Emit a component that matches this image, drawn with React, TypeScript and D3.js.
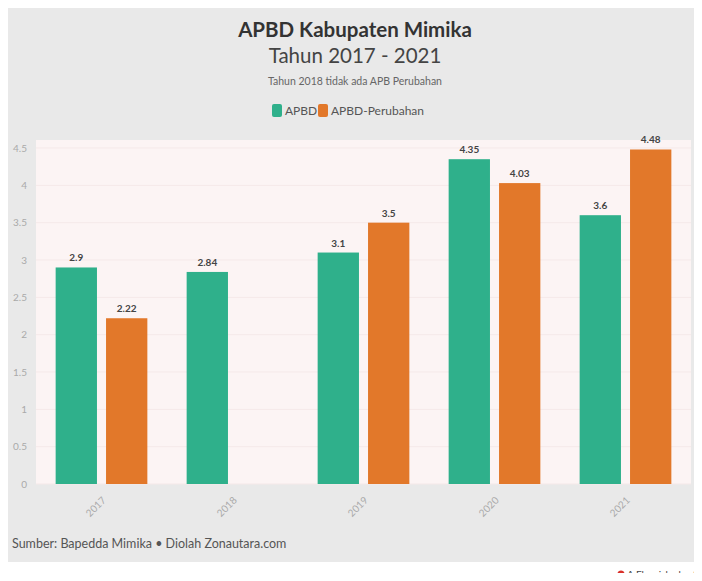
import React from 'react';
import * as d3 from 'd3';

const years = ['2017', '2018', '2019', '2020', '2021'];
const apbd = [2.9, 2.84, 3.1, 4.35, 3.6];
const apbdPerubahan: (number | null)[] = [2.22, null, 3.5, 4.03, 4.48];
const yTicks = [0, 0.5, 1, 1.5, 2, 2.5, 3, 3.5, 4, 4.5];
const seriesNames = ['APBD', 'APBD-Perubahan'];
const colors = ['#2fb08b', '#e2782a'];

const W = 702;
const H = 581;
const FONT = "'Lato', 'Open Sans', sans-serif";

export default function App() {
  const plot = { left: 36, right: 691, top: 140, bottom: 484 };

  const x0 = d3.scaleBand<string>()
    .domain(years)
    .range([plot.left, plot.right])
    .paddingInner(0.3)
    .paddingOuter(0.15);

  const x1 = d3.scaleBand<number>()
    .domain([0, 1])
    .range([0, x0.bandwidth()])
    .paddingInner(0.18);

  const y = d3.scaleLinear().domain([0, 4.5]).range([plot.bottom, 148]);

  const series = [apbd, apbdPerubahan];

  return (
    <div style={{ margin: -8 }}>
      <svg width={W} height={H} style={{ display: 'block', fontFamily: FONT }}>
        <rect x={0} y={0} width={W} height={H} fill="#ffffff" />
        <rect x={2} y={5} width={694} height={557} fill="#e9e9e9" />

        <text x={355} y={37} textAnchor="middle" fontSize={20.5} fontWeight={700} fill="#333">
          APBD Kabupaten Mimika
        </text>
        <text x={355} y={63} textAnchor="middle" fontSize={20.5} fill="#444">
          Tahun 2017 - 2021
        </text>
        <text x={355} y={85} textAnchor="middle" fontSize={10.5} fill="#666">
          Tahun 2018 tidak ada APB Perubahan
        </text>

        {/* legend */}
        <g fontSize={12} fill="#555">
          <rect x={272} y={104} width={10} height={13} rx={2} fill={colors[0]} />
          <text x={285} y={115}>{seriesNames[0]}</text>
          <rect x={318} y={104} width={10} height={13} rx={2} fill={colors[1]} />
          <text x={331} y={115}>{seriesNames[1]}</text>
        </g>

        {/* plot background */}
        <rect x={plot.left} y={plot.top} width={plot.right - plot.left} height={plot.bottom - plot.top} fill="#fcf4f4" />

        {yTicks.map((t) => (
          <g key={t}>
            <line x1={plot.left} x2={plot.right} y1={y(t)} y2={y(t)} stroke="#f5e9e9" strokeWidth={1} />
            <text x={27} y={y(t) + 3.5} textAnchor="end" fontSize={10} fill="#aaa">
              {d3.format('~g')(t)}
            </text>
          </g>
        ))}

        {years.map((yr, i) => (
          <g key={yr} transform={`translate(${x0(yr)},0)`}>
            {series.map((s, j) => {
              const v = s[i];
              if (v == null) return null;
              const bx = x1(j)!;
              return (
                <g key={j}>
                  <rect x={bx} y={y(v)} width={x1.bandwidth()} height={y(0) - y(v)} fill={colors[j]} />
                  <text x={bx + x1.bandwidth() / 2} y={y(v) - 6} textAnchor="middle" fontSize={10} fontWeight={700} fill="#444">
                    {v}
                  </text>
                </g>
              );
            })}
          </g>
        ))}

        {years.map((yr) => {
          const cx = x0(yr)! + x0.bandwidth() / 2;
          return (
            <text key={yr} transform={`translate(${cx + 5},${plot.bottom + 17}) rotate(-45)`} textAnchor="end" fontSize={10} fill="#aaa">
              {yr}
            </text>
          );
        })}

        <text x={12} y={548} fontSize={12.5} fill="#555">
          Sumber: Bapedda Mimika • Diolah Zonautara.com
        </text>

        <circle cx={621} cy={574} r={3.5} fill="#d9302a" />
        <text x={627} y={577.5} fontSize={10} fill="#444">A Flourish chart</text>
      </svg>
    </div>
  );
}
